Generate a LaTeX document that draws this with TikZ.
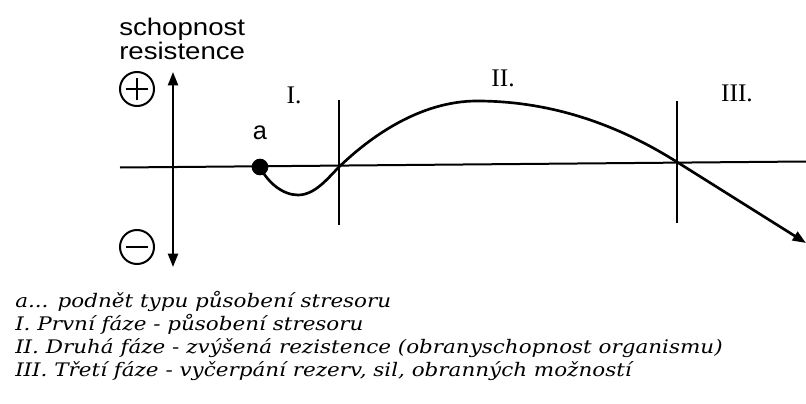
\documentclass[tikz,border=0pt]{standalone}
\usepackage{fontspec}
\usepackage{graphicx}
\setmainfont{Liberation Serif}
\setsansfont{Liberation Sans}
\newfontfamily\legendfont{DejaVu Serif}
\usetikzlibrary{arrows.meta}
\newcommand{\wideleg}[1]{\scalebox{1.15}[1]{#1}}
\newcommand{\widesans}[1]{\scalebox{1.15}[1]{#1}}
\begin{document}
\begin{tikzpicture}[x=0.75pt,y=-0.75pt,
  axisline/.style={line width=1.5pt},
  curveline/.style={line width=2pt},
  signcircle/.style={circle,draw,line width=1.5pt,minimum size=25.5pt,inner sep=0pt},
  sans/.style={font=\sffamily\fontsize{18}{22}\selectfont,anchor=base west,inner sep=0pt},
  roman/.style={font=\fontsize{19}{22}\selectfont,inner sep=0pt},
  legend/.style={font=\legendfont\itshape\fontsize{14}{17}\selectfont,anchor=base west,inner sep=0pt},
  tri/.tip={Triangle[length=10pt,width=7.5pt]}]
\useasboundingbox (0,0) rectangle (806,403);
\fill[white] (0,0) rectangle (806,403);
% coordinates
\coordinate (axL) at (120,167.5);
\coordinate (axR) at (806,161.5);
\coordinate (vTop) at (173,72);
\coordinate (vBot) at (173,267);
\coordinate (Itop) at (339,100);
\coordinate (Ibot) at (339,225);
\coordinate (IIItop) at (677,101);
\coordinate (IIIbot) at (677,223);
\coordinate (A) at (260,167);
\coordinate (m1) at (298,195);
\coordinate (c1) at (339,167);
\coordinate (top) at (477,101);
\coordinate (c2) at (677,162);
\coordinate (end) at (806,243);
% axes
\draw[axisline] (axL) -- (axR);
\draw[axisline,tri-tri] (vTop) -- (vBot);
\draw[axisline] (Itop) -- (Ibot);
\draw[axisline] (IIItop) -- (IIIbot);
% curve
\draw[curveline] (A) .. controls (268,183) and (283,195) .. (m1)
  .. controls (315,195) and (328,178) .. (c1)
  .. controls (370,137) and (420,101) .. (top)
  .. controls (560,101) and (627,130.5) .. (c2);
\draw[curveline,-tri] (c2) -- (end);
\node[circle,fill=black,inner sep=0pt,minimum size=12.5pt] (dot) at (A) {};
% signs
\node[signcircle] (plus) at (137,89) {};
\draw[line width=1.5pt] ([xshift=-8.5pt]plus.center) -- ([xshift=8.5pt]plus.center);
\draw[line width=1.5pt] ([yshift=-8.5pt]plus.center) -- ([yshift=8.5pt]plus.center);
\node[signcircle] (minus) at (137,247) {};
\draw[line width=1.5pt] ([xshift=-8.5pt]minus.center) -- ([xshift=8.5pt]minus.center);
% labels
\node[sans] (l1) at (119,36) {\widesans{schopnost}};
\node[sans] (l2) at (119,60) {\widesans{resistence}};
\node[font=\sffamily\fontsize{19}{22}\selectfont,inner sep=0pt] (la) at (260,133) {a};
\node[roman] (r1) at (294,95) {I.};
\node[roman] (r2) at (503,78) {II.};
\node[roman] (r3) at (737,93) {III.};
% legend
\node[legend] (t1) at (15,307) {\wideleg{a... podnět typu působení stresoru}};
\node[legend] (t2) at (15,330) {\wideleg{I. První fáze - působení stresoru}};
\node[legend] (t3) at (15,353) {\wideleg{II. Druhá fáze - zvýšená rezistence (obranyschopnost organismu)}};
\node[legend] (t4) at (15,376) {\wideleg{III. Třetí fáze - vyčerpání rezerv, sil, obranných možností}};
\end{tikzpicture}
\end{document}
